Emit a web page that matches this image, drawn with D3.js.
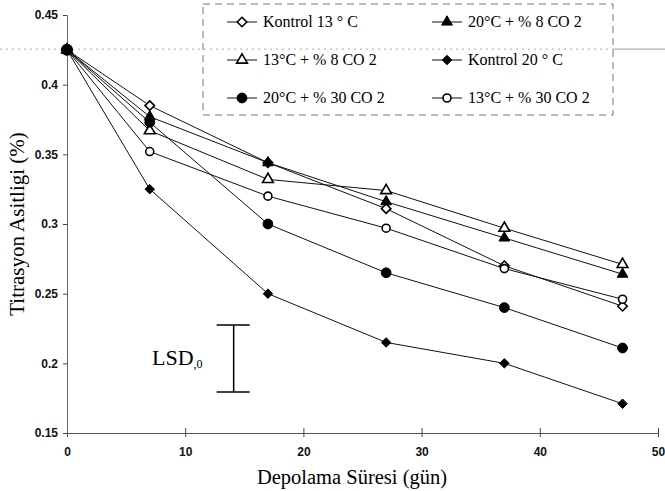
<!DOCTYPE html>
<html>
<head>
<meta charset="utf-8">
<script src="https://cdn.jsdelivr.net/npm/d3@7"></script>
<style>
  body { margin: 0; background: #fff; }
  svg { display: block; }
</style>
</head>
<body>
<svg id="chart" width="665" height="491"></svg>
<script>
// storage days and titratable acidity (%) per treatment
var days = [0, 7, 17, 27, 37, 47];
var kontrol13 = [0.425, 0.385, 0.344, 0.311, 0.270, 0.241];
var c20co8 = [0.425, 0.377, 0.344, 0.316, 0.290, 0.264];
var c13co8 = [0.425, 0.367, 0.332, 0.324, 0.297, 0.271];
var kontrol20 = [0.425, 0.325, 0.250, 0.215, 0.200, 0.171];
var c20co30 = [0.425, 0.373, 0.300, 0.265, 0.240, 0.211];
var c13co30 = [0.425, 0.352, 0.320, 0.297, 0.268, 0.246];

var xTicks = [0, 10, 20, 30, 40, 50];
var yTicks = [0.15, 0.2, 0.25, 0.3, 0.35, 0.4, 0.45];
var lsdRange = [0.1795, 0.2275];
var lsdDay = 14.1;

// square diamond (d3's own one is tall and narrow)
var squareDiamond = {
    draw: function(context, size) {
        var r = Math.sqrt(size / 2);
        context.moveTo(0, -r);
        context.lineTo(r, 0);
        context.lineTo(0, r);
        context.lineTo(-r, 0);
        context.closePath();
    }
};

var series = [
    { name: "Kontrol 13 ° C", values: kontrol13, symbol: squareDiamond, filled: false, size: 45 },
    { name: "20°C + % 8 CO 2", values: c20co8, symbol: d3.symbolTriangle, filled: true, size: 50 },
    { name: "13°C + % 8 CO 2", values: c13co8, symbol: d3.symbolTriangle, filled: false, size: 50 },
    { name: "Kontrol 20 ° C", values: kontrol20, symbol: squareDiamond, filled: true, size: 45 },
    { name: "20°C + % 30 CO 2", values: c20co30, symbol: d3.symbolCircle, filled: true, size: 75 },
    { name: "13°C + % 30 CO 2", values: c13co30, symbol: d3.symbolCircle, filled: false, size: 50 }
];

var svg = d3.select("#chart");
var serif = "'Liberation Serif', 'Times New Roman', serif";
var sans = "'Liberation Sans', Arial, sans-serif";

var x = d3.scaleLinear().domain([0, 50]).range([67, 658]);
var y = d3.scaleLinear().domain([0.15, 0.45]).range([433, 15]);

// faint scan line at the start level
svg.append("line")
    .attr("x1", 0).attr("x2", 613)
    .attr("y1", y(0.4255)).attr("y2", y(0.4255))
    .attr("stroke", "#aaa").attr("stroke-width", 1)
    .attr("stroke-dasharray", "2,4");
svg.append("line")
    .attr("x1", 613).attr("x2", 665)
    .attr("y1", y(0.4255)).attr("y2", y(0.4255))
    .attr("stroke", "#999").attr("stroke-width", 1);

// axes
var xAxis = d3.axisBottom(x).tickValues(xTicks).tickSize(0).tickPadding(14);
var gx = svg.append("g").attr("transform", "translate(0," + y(0.15) + ")").call(xAxis);
gx.select(".domain").attr("stroke", "#555");
gx.selectAll(".tick").append("line")
    .attr("y1", -5).attr("y2", 4).attr("stroke", "#444");
gx.selectAll("text")
    .attr("font-family", sans).attr("font-size", 12).attr("font-weight", "bold")
    .attr("fill", "#111");

var yAxis = d3.axisLeft(y).tickValues(yTicks).tickSize(4).tickPadding(5)
    .tickFormat(function(d) { return String(+d.toFixed(2)); });
var gy = svg.append("g").attr("transform", "translate(" + x(0) + ",0)").call(yAxis);
gy.select(".domain").attr("stroke", "#666");
gy.selectAll(".tick line").attr("stroke", "#444");
gy.selectAll("text")
    .attr("font-family", sans).attr("font-size", 12).attr("font-weight", "bold")
    .attr("fill", "#111");

// axis titles
svg.append("text")
    .attr("x", 352).attr("y", 484)
    .attr("text-anchor", "middle")
    .attr("font-family", serif).attr("font-size", 20.5)
    .text("Depolama Süresi (gün)");

svg.append("text")
    .attr("transform", "translate(24,224) rotate(-90)")
    .attr("text-anchor", "middle")
    .attr("font-family", serif).attr("font-size", 21)
    .text("Titrasyon Asitligi (%)");

// lines
var line = d3.line()
    .x(function(d, i) { return x(days[i]); })
    .y(function(d) { return y(d); });

svg.append("g").selectAll("path")
    .data(series)
    .enter()
    .append("path")
    .attr("d", function(d) { return line(d.values); })
    .attr("fill", "none")
    .attr("stroke", "#111")
    .attr("stroke-width", 1);

// markers
function drawMarker(sel, s) {
    sel.attr("d", d3.symbol().type(s.symbol).size(s.size))
        .attr("fill", s.filled ? "#000" : "#fff")
        .attr("stroke", "#000")
        .attr("stroke-width", s.filled ? 1 : 1.6);
}

series.forEach(function(s) {
    svg.append("g").selectAll("path")
        .data(s.values)
        .enter()
        .append("path")
        .attr("transform", function(d, i) { return "translate(" + x(days[i]) + "," + y(d) + ")"; })
        .call(drawMarker, s);
});

// overlapping start point
svg.append("circle")
    .attr("cx", x(days[0])).attr("cy", y(kontrol13[0]))
    .attr("r", 6).attr("fill", "#000");

// LSD bar
var lsd = svg.append("g");
lsd.append("line")
    .attr("x1", x(lsdDay)).attr("x2", x(lsdDay))
    .attr("y1", y(lsdRange[0])).attr("y2", y(lsdRange[1]))
    .attr("stroke", "#000").attr("stroke-width", 1.5);
lsdRange.forEach(function(v) {
    lsd.append("line")
        .attr("x1", x(lsdDay) - 17).attr("x2", x(lsdDay) + 16)
        .attr("y1", y(v)).attr("y2", y(v))
        .attr("stroke", "#000").attr("stroke-width", 1.5);
});
var lsdText = lsd.append("text")
    .attr("x", 152).attr("y", 365)
    .attr("font-family", serif).attr("font-size", 22)
    .text("LSD");
lsdText.append("tspan")
    .attr("font-size", 12).attr("dy", 3)
    .text(",0");

// legend
var legend = svg.append("g");
legend.append("rect")
    .attr("x", 203).attr("y", 4)
    .attr("width", 410).attr("height", 111)
    .attr("fill", "none")
    .attr("stroke", "#777").attr("stroke-width", 1)
    .attr("stroke-dasharray", "7,5");

var legendCols = [242, 447];
var legendRows = [22, 60, 98];

var item = legend.selectAll(".item")
    .data(series)
    .enter()
    .append("g")
    .attr("class", "item")
    .attr("transform", function(d, i) {
        return "translate(" + legendCols[i % 2] + "," + legendRows[Math.floor(i / 2)] + ")";
    });

item.append("line")
    .attr("x1", -15).attr("x2", 15)
    .attr("stroke", "#111").attr("stroke-width", 1);
item.each(function(s) {
    d3.select(this).append("path").call(drawMarker, s);
});
item.append("text")
    .attr("x", 21).attr("y", 5)
    .attr("font-family", serif).attr("font-size", 16)
    .text(function(d) { return d.name; });
</script>
</body>
</html>
